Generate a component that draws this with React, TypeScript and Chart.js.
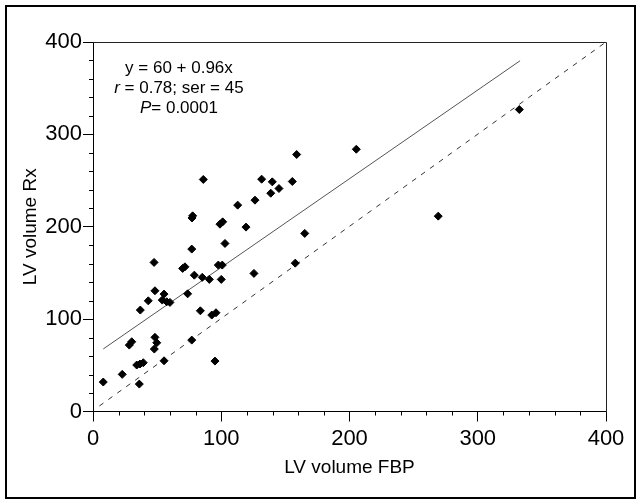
import React, { useEffect, useRef } from 'react';
import { Chart, registerables } from 'chart.js';

Chart.register(...registerables);

// LV volume FBP (x) and LV volume Rx (y)
const fbpVolume = [
  47.6, 69.9, 71.7, 79.0, 85.2, 90.7, 97.7, 100.8, 100.0, 125.5,
  48.3, 55.4, 43.1, 54.0, 57.5, 60.0, 73.8, 36.9, 83.7, 92.6,
  95.9, 30.2, 28.3, 48.3, 49.7, 47.8, 77.0, 55.4, 95.1, 34.1,
  36.6, 39.2, 22.8, 8.0, 36.1, 86.0, 131.5, 139.8, 138.6, 126.3,
  112.8, 77.7, 77.2, 99.0, 101.1, 119.3, 102.9, 77.0, 145.0, 155.4,
  158.8, 205.3, 157.7, 165.1, 269.2, 332.4,
];
const rxVolume = [
  161.4, 154.9, 156.6, 147.6, 145.2, 143.0, 158.5, 158.5, 143.0, 149.5,
  130.7, 127.1, 119.8, 120.6, 118.8, 118.1, 127.4, 109.8, 109.0, 104.4,
  106.9, 75.5, 71.9, 80.3, 74.4, 67.6, 77.3, 54.9, 54.6, 50.3,
  51.4, 52.8, 40.2, 31.9, 29.7, 251.2, 251.5, 248.6, 236.3, 228.8,
  223.4, 211.8, 209.5, 202.8, 205.3, 199.6, 181.9, 175.8, 241.4, 249.0,
  278.2, 283.9, 160.6, 192.8, 211.5, 326.9,
];

// Regression line (y = 60 + 0.96x) end points and identity line end points
const fitLineX = [8, 333];
const fitLineY = [67.7, 379.7];
const identityX = [5, 400];
const identityY = [6, 400];

const axisMin = 0;
const axisMax = 400;
const majorStep = 100;
const minorStep = 20;

const xTitle = 'LV volume FBP';
const yTitle = 'LV volume Rx';

// Annotation text: segments [text, italic]
const annotationLines: [string, boolean][][] = [
  [['y = 60 + 0.96x', false]],
  [['r', true], [' = 0.78; ser = 45', false]],
  [['P', true], ['= 0.0001', false]],
];
const annotationX = 67;
const annotationY = [372, 350, 328];

const FONT = '"Liberation Sans", Arial, sans-serif';

const decorPlugin = {
  id: 'decor',
  afterDraw(chart: any) {
    const { ctx, chartArea: a, scales } = chart;
    const xs = scales.x;
    const ys = scales.y;
    ctx.save();
    // box top and right
    ctx.strokeStyle = '#222';
    ctx.lineWidth = 1;
    ctx.beginPath();
    ctx.moveTo(Math.round(a.left) + 0.5, Math.round(a.top) + 0.5);
    ctx.lineTo(Math.round(a.right) + 0.5, Math.round(a.top) + 0.5);
    ctx.lineTo(Math.round(a.right) + 0.5, Math.round(a.bottom) + 0.5);
    ctx.stroke();
    // minor ticks
    ctx.strokeStyle = '#000';
    ctx.beginPath();
    for (let v = axisMin; v <= axisMax; v += minorStep) {
      if (v % majorStep === 0) continue;
      const px = Math.round(xs.getPixelForValue(v)) + 0.5;
      ctx.moveTo(px, a.bottom);
      ctx.lineTo(px, a.bottom + 4);
      const py = Math.round(ys.getPixelForValue(v)) + 0.5;
      ctx.moveTo(a.left, py);
      ctx.lineTo(a.left - 4, py);
    }
    ctx.stroke();
    // annotation
    ctx.fillStyle = '#000';
    ctx.textBaseline = 'middle';
    ctx.textAlign = 'left';
    const cx = xs.getPixelForValue(annotationX);
    annotationLines.forEach((segs, i) => {
      const cy = ys.getPixelForValue(annotationY[i]);
      let total = 0;
      const widths = segs.map(([t, it]) => {
        ctx.font = `${it ? 'italic ' : ''}17px ${FONT}`;
        const w = ctx.measureText(t).width;
        total += w;
        return w;
      });
      let x0 = cx - total / 2;
      segs.forEach(([t, it], j) => {
        ctx.font = `${it ? 'italic ' : ''}17px ${FONT}`;
        ctx.fillText(t, x0, cy);
        x0 += widths[j];
      });
    });
    ctx.restore();
  },
};

export default function App() {
  const canvasRef = useRef<HTMLCanvasElement | null>(null);

  useEffect(() => {
    const canvas = canvasRef.current;
    if (!canvas) return;
    const points = fbpVolume.map((x, i) => ({ x, y: rxVolume[i] }));
    const fit = fitLineX.map((x, i) => ({ x, y: fitLineY[i] }));
    const ident = identityX.map((x, i) => ({ x, y: identityY[i] }));

    const axisCommon = (title: string, isX: boolean) => ({
      type: 'linear' as const,
      min: axisMin,
      max: axisMax,
      ticks: {
        stepSize: majorStep,
        color: '#000',
        font: { family: FONT, size: 22 },
        padding: isX ? 4 : 1,
      },
      grid: {
        drawOnChartArea: false,
        drawTicks: true,
        tickLength: 10,
        tickColor: '#000',
        tickWidth: 1,
      },
      border: { display: true, color: '#000', width: 1 },
      title: {
        display: true,
        text: title,
        color: '#000',
        font: { family: FONT, size: 19 },
        padding: isX ? { top: 0, bottom: 23 } : { top: 19, bottom: 0 },
      },
      afterFit: (s: any) => {
        if (isX) s.height = 90.5;
        else s.width = 93;
      },
    });

    const chart = new Chart(canvas, {
      type: 'scatter',
      data: {
        datasets: [
          {
            data: points,
            pointStyle: 'rectRot',
            pointRadius: 4,
            backgroundColor: '#000',
            borderColor: '#000',
            borderWidth: 1,
          },
          {
            type: 'line',
            data: fit,
            borderColor: '#555',
            borderWidth: 1,
            pointRadius: 0,
            fill: false,
          },
          {
            type: 'line',
            data: ident,
            borderColor: '#333',
            borderWidth: 1,
            borderDash: [5, 6],
            pointRadius: 0,
            fill: false,
          },
        ],
      } as any,
      options: {
        responsive: false,
        animation: false,
        layout: { padding: { top: 42, right: 34, left: 0, bottom: 0 } },
        plugins: {
          legend: { display: false },
          tooltip: { enabled: false },
        },
        scales: {
          x: axisCommon(xTitle, true),
          y: axisCommon(yTitle, false),
        } as any,
      },
      plugins: [decorPlugin],
    });
    return () => chart.destroy();
  }, []);

  return (
    <div style={{ position: 'fixed', left: 0, top: 0, width: 640, height: 502, background: '#fff' }}>
      <canvas ref={canvasRef} width={640} height={502} style={{ width: 640, height: 502, display: 'block' }} />
      <div
        style={{
          position: 'absolute',
          left: 5,
          top: 5,
          width: 631,
          height: 494,
          border: '2px solid #000',
          boxSizing: 'border-box',
          pointerEvents: 'none',
        }}
      />
    </div>
  );
}
